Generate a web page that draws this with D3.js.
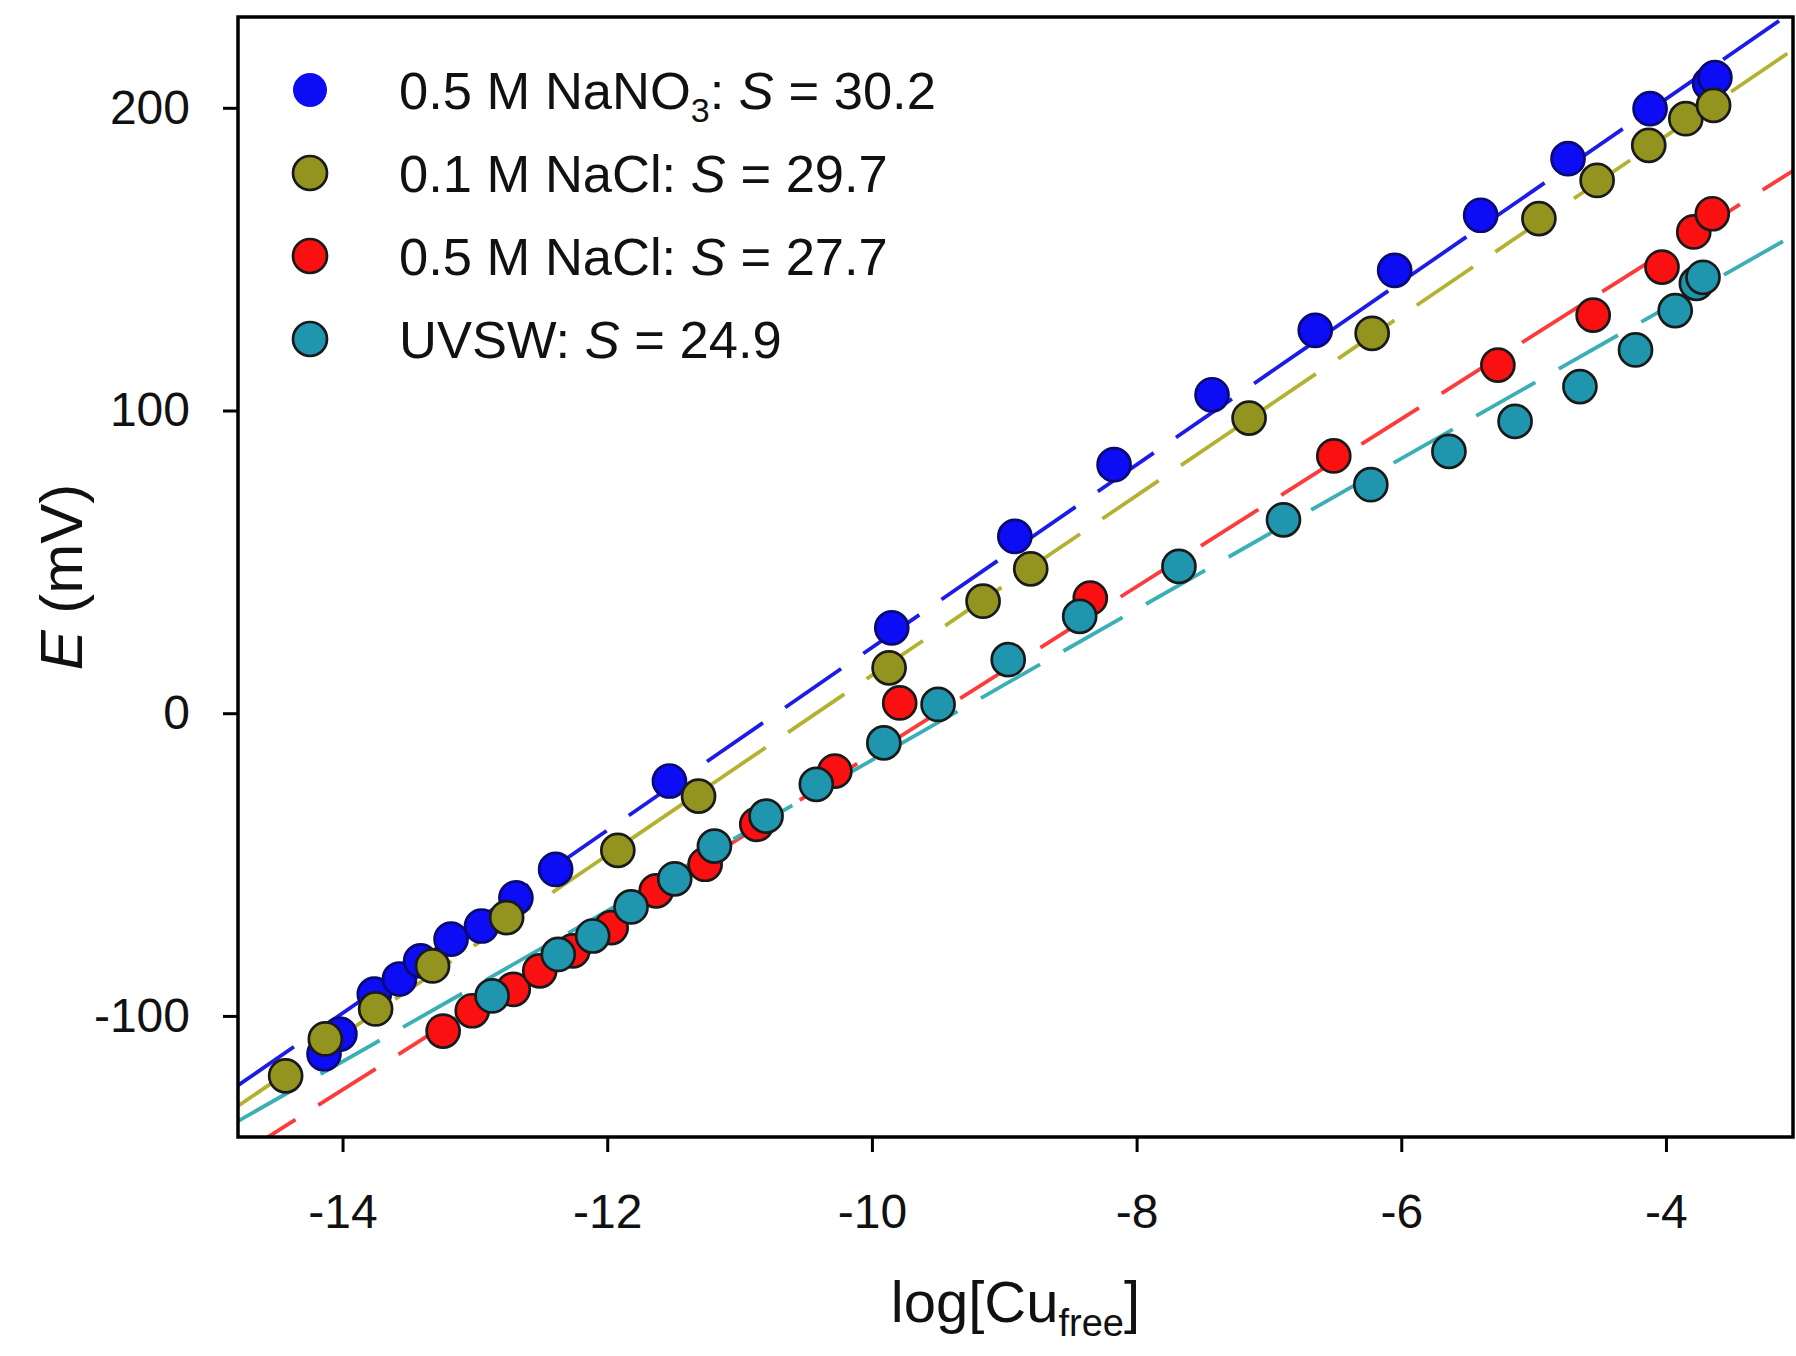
<!DOCTYPE html>
<html>
  <head>
    <meta charset="utf-8" />
    <script src="https://d3js.org/d3.v7.min.js"></script>
    <style>
      body { margin: 0; background: #fff; }
      svg { font-family: "Liberation Sans", Arial, sans-serif; }
    </style>
  </head>
  <body>
    <div id="chart"></div>
    <script>
      // series data: log[Cu_free] vs E (mV)
      const nano3 = [
        [-14.14, -112.5], [-14.02, -106], [-13.76, -92.8], [-13.57, -87.8], [-13.41, -81.8],
        [-13.18, -74.6], [-12.95, -70.3], [-12.69, -61], [-12.39, -51.6], [-11.53, -22.4],
        [-9.85, 28.2], [-8.92, 58.4], [-8.17, 82.1], [-7.43, 105.2], [-6.65, 126.5],
        [-6.05, 146.3], [-5.4, 164.5], [-4.74, 183.2], [-4.12, 199.7], [-3.67, 208], [-3.63, 210]
      ];
      const nacl01 = [
        [-14.43, -119.8], [-14.13, -107.6], [-13.75, -97.7], [-13.32, -83.5], [-12.76, -67.5],
        [-11.92, -45.3], [-11.31, -27.4], [-9.87, 15], [-9.16, 37], [-8.8, 47.7],
        [-7.15, 97.5], [-6.22, 125.5], [-4.96, 163.4], [-4.52, 176], [-4.13, 187.6],
        [-3.85, 196.4], [-3.64, 200.8]
      ];
      const nacl05 = [
        [-13.24, -105], [-13.02, -98.3], [-12.71, -91.2], [-12.51, -85.1], [-12.26, -78.5],
        [-11.97, -70.8], [-11.63, -58.7], [-11.26, -49.9], [-10.87, -36.7], [-10.28, -19.1],
        [-9.79, 3.4], [-8.35, 38], [-6.51, 85], [-5.27, 115], [-4.55, 131.5],
        [-4.03, 147.4], [-3.79, 159], [-3.65, 165]
      ];
      const uvsw = [
        [-12.87, -93.4], [-12.37, -79.7], [-12.11, -73.6], [-11.82, -64], [-11.49, -54.7],
        [-11.19, -43.9], [-10.8, -34], [-10.42, -23.5], [-9.91, -9.8], [-9.5, 2.9],
        [-8.97, 17.7], [-8.43, 32], [-7.68, 48.5], [-6.89, 63.9], [-6.23, 75.5],
        [-5.64, 86.5], [-5.14, 96.4], [-4.65, 107.9], [-4.23, 120], [-3.93, 133],
        [-3.77, 142], [-3.72, 144]
      ];

      const labels = ["0.5 M NaNO", "0.1 M NaCl", "0.5 M NaCl", "UVSW"];
      const subs = ["3", "", "", ""];
      const slopes = [30.2, 29.7, 27.7, 24.9];
      const intercepts = [323.7, 309.5, 263.4, 233.5];
      const fills = ["#0c0cf5", "#939320", "#fa1010", "#2096ae"];
      const lineColors = ["#1c1ce8", "#b2b230", "#ff3a3a", "#3aafb6"];
      const strokes = ["#0a0a70", "#1a1a1a", "#1a1a1a", "#1a1a1a"];
      const allSeries = [nano3, nacl01, nacl05, uvsw];

      const xTicks = [-14, -12, -10, -8, -6, -4];
      const yTicks = [-100, 0, 100, 200];

      const W = 1796, H = 1356;
      const margin = { top: 17, right: 3, bottom: 219, left: 238 };
      const width = W - margin.left - margin.right;
      const height = H - margin.top - margin.bottom;

      const svg = d3.select("#chart").append("svg").attr("width", W).attr("height", H);
      const g = svg.append("g").attr("transform", `translate(${margin.left},${margin.top})`);

      const x = d3.scaleLinear().domain([-14.79, -3.04]).range([0, width]);
      const y = d3.scaleLinear().domain([-140, 230]).range([height, 0]);

      g.append("clipPath").attr("id", "clip")
        .append("rect").attr("width", width).attr("height", height);

      // axes
      const xAxis = g.append("g").attr("transform", `translate(0,${height})`)
        .call(d3.axisBottom(x).tickValues(xTicks).tickSize(15).tickSizeOuter(0).tickPadding(42).tickFormat(d => String(d)));
      const yAxis = g.append("g")
        .call(d3.axisLeft(y).tickValues(yTicks).tickSize(15).tickSizeOuter(0).tickPadding(33).tickFormat(d => String(d)));
      [xAxis, yAxis].forEach(a => {
        a.select(".domain").remove();
        a.selectAll("line").attr("stroke", "#000").attr("stroke-width", 3);
        a.selectAll("text").attr("fill", "#111").style("font-size", "48px")
          .style("font-family", "'Liberation Sans', Arial, sans-serif");
      });

      // fitted lines
      const fitLine = d3.line().x(d => x(d[0])).y(d => y(d[1]));
      const plot = g.append("g").attr("clip-path", "url(#clip)");
      slopes.forEach((s, i) => {
        const pts = x.domain().map(v => [v, intercepts[i] + s * v]);
        plot.append("path").attr("d", fitLine(pts))
          .attr("fill", "none").attr("stroke", lineColors[i]).attr("stroke-width", 3.8)
          .attr("stroke-dasharray", "68,27");
      });

      // data points
      allSeries.forEach((data, i) => {
        plot.append("g").selectAll("circle").data(data).join("circle")
          .attr("cx", d => x(d[0])).attr("cy", d => y(d[1])).attr("r", 16.5)
          .attr("fill", fills[i]).attr("stroke", strokes[i]).attr("stroke-width", 2.7);
      });

      // frame
      g.append("rect").attr("width", width).attr("height", height)
        .attr("fill", "none").attr("stroke", "#000").attr("stroke-width", 3.5);

      // legend
      const leg = g.append("g").attr("transform", "translate(72,73)");
      labels.forEach((lab, i) => {
        const row = leg.append("g").attr("transform", `translate(0,${i * 83})`);
        row.append("circle").attr("r", 17).attr("fill", fills[i])
          .attr("stroke", i === 0 ? "none" : strokes[i]).attr("stroke-width", 2.7);
        const t = row.append("text").attr("x", 89).attr("y", 19)
          .style("font-size", "52.5px").attr("fill", "#111");
        t.append("tspan").text(lab);
        if (subs[i]) {
          t.append("tspan").attr("dy", 13).style("font-size", "34px").text(subs[i]);
          t.append("tspan").attr("dy", -13).text(":");
        } else {
          t.append("tspan").text(":");
        }
        t.append("tspan").text(" ");
        t.append("tspan").style("font-style", "italic").text("S");
        t.append("tspan").text(" = " + slopes[i].toFixed(1));
      });

      // axis titles
      const xt = svg.append("text").attr("x", margin.left + width / 2).attr("y", 1322)
        .attr("text-anchor", "middle").style("font-size", "58px").attr("fill", "#111");
      xt.append("tspan").text("log[Cu");
      xt.append("tspan").attr("dy", 14).style("font-size", "38px").text("free");
      xt.append("tspan").attr("dy", -14).text("]");

      const yt = svg.append("text")
        .attr("transform", `translate(82,${margin.top + height / 2}) rotate(-90)`)
        .attr("text-anchor", "middle").style("font-size", "60px").attr("fill", "#111");
      yt.append("tspan").style("font-style", "italic").text("E");
      yt.append("tspan").text(" (mV)");
    </script>
  </body>
</html>
